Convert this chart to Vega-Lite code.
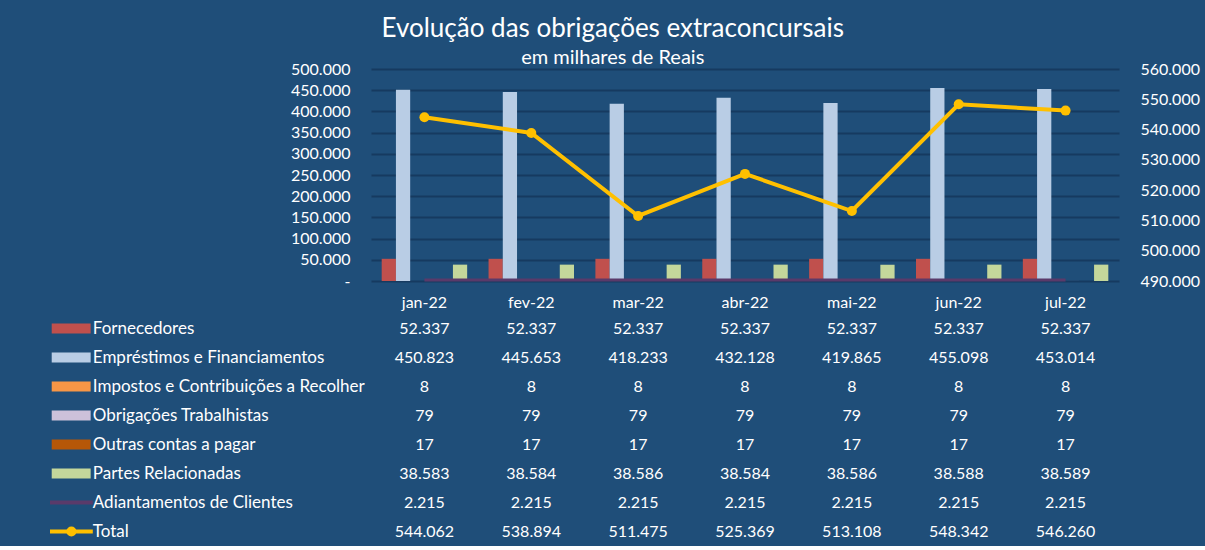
{
  "$schema": "https://vega.github.io/schema/vega-lite/v6.json",
  "background": "#1F4E79",
  "padding": {"left": 48, "top": 16, "right": 5, "bottom": 0},
  "title": {
    "text": "Evolução das obrigações extraconcursais",
    "subtitle": "em milhares de Reais",
    "anchor": "middle",
    "color": "white",
    "font": "Lato",
    "fontSize": 26,
    "fontWeight": "normal",
    "subtitleColor": "white",
    "subtitleFont": "Lato",
    "subtitleFontSize": 20,
    "subtitlePadding": 6,
    "offset": -7,
    "dx": -11
  },
  "datasets": {
    "d": [
      {"m": "jan-22", "s": "Fornecedores", "v": 52337},
      {"m": "fev-22", "s": "Fornecedores", "v": 52337},
      {"m": "mar-22", "s": "Fornecedores", "v": 52337},
      {"m": "abr-22", "s": "Fornecedores", "v": 52337},
      {"m": "mai-22", "s": "Fornecedores", "v": 52337},
      {"m": "jun-22", "s": "Fornecedores", "v": 52337},
      {"m": "jul-22", "s": "Fornecedores", "v": 52337},
      {"m": "jan-22", "s": "Empréstimos e Financiamentos", "v": 450823},
      {"m": "fev-22", "s": "Empréstimos e Financiamentos", "v": 445653},
      {"m": "mar-22", "s": "Empréstimos e Financiamentos", "v": 418233},
      {"m": "abr-22", "s": "Empréstimos e Financiamentos", "v": 432128},
      {"m": "mai-22", "s": "Empréstimos e Financiamentos", "v": 419865},
      {"m": "jun-22", "s": "Empréstimos e Financiamentos", "v": 455098},
      {"m": "jul-22", "s": "Empréstimos e Financiamentos", "v": 453014},
      {"m": "jan-22", "s": "Impostos e Contribuições a Recolher", "v": 8},
      {"m": "fev-22", "s": "Impostos e Contribuições a Recolher", "v": 8},
      {"m": "mar-22", "s": "Impostos e Contribuições a Recolher", "v": 8},
      {"m": "abr-22", "s": "Impostos e Contribuições a Recolher", "v": 8},
      {"m": "mai-22", "s": "Impostos e Contribuições a Recolher", "v": 8},
      {"m": "jun-22", "s": "Impostos e Contribuições a Recolher", "v": 8},
      {"m": "jul-22", "s": "Impostos e Contribuições a Recolher", "v": 8},
      {"m": "jan-22", "s": "Obrigações Trabalhistas", "v": 79},
      {"m": "fev-22", "s": "Obrigações Trabalhistas", "v": 79},
      {"m": "mar-22", "s": "Obrigações Trabalhistas", "v": 79},
      {"m": "abr-22", "s": "Obrigações Trabalhistas", "v": 79},
      {"m": "mai-22", "s": "Obrigações Trabalhistas", "v": 79},
      {"m": "jun-22", "s": "Obrigações Trabalhistas", "v": 79},
      {"m": "jul-22", "s": "Obrigações Trabalhistas", "v": 79},
      {"m": "jan-22", "s": "Outras contas a pagar", "v": 17},
      {"m": "fev-22", "s": "Outras contas a pagar", "v": 17},
      {"m": "mar-22", "s": "Outras contas a pagar", "v": 17},
      {"m": "abr-22", "s": "Outras contas a pagar", "v": 17},
      {"m": "mai-22", "s": "Outras contas a pagar", "v": 17},
      {"m": "jun-22", "s": "Outras contas a pagar", "v": 17},
      {"m": "jul-22", "s": "Outras contas a pagar", "v": 17},
      {"m": "jan-22", "s": "Partes Relacionadas", "v": 38583},
      {"m": "fev-22", "s": "Partes Relacionadas", "v": 38584},
      {"m": "mar-22", "s": "Partes Relacionadas", "v": 38586},
      {"m": "abr-22", "s": "Partes Relacionadas", "v": 38584},
      {"m": "mai-22", "s": "Partes Relacionadas", "v": 38586},
      {"m": "jun-22", "s": "Partes Relacionadas", "v": 38588},
      {"m": "jul-22", "s": "Partes Relacionadas", "v": 38589},
      {"m": "jan-22", "s": "Adiantamentos de Clientes", "v": 2215},
      {"m": "fev-22", "s": "Adiantamentos de Clientes", "v": 2215},
      {"m": "mar-22", "s": "Adiantamentos de Clientes", "v": 2215},
      {"m": "abr-22", "s": "Adiantamentos de Clientes", "v": 2215},
      {"m": "mai-22", "s": "Adiantamentos de Clientes", "v": 2215},
      {"m": "jun-22", "s": "Adiantamentos de Clientes", "v": 2215},
      {"m": "jul-22", "s": "Adiantamentos de Clientes", "v": 2215},
      {"m": "jan-22", "s": "Total", "v": 544062},
      {"m": "fev-22", "s": "Total", "v": 538894},
      {"m": "mar-22", "s": "Total", "v": 511475},
      {"m": "abr-22", "s": "Total", "v": 525369},
      {"m": "mai-22", "s": "Total", "v": 513108},
      {"m": "jun-22", "s": "Total", "v": 548342},
      {"m": "jul-22", "s": "Total", "v": 546260}
    ]
  },
  "columns": 2,
  "bounds": "flush",
  "spacing": {"row": 33, "column": 0},
  "concat": [
    {
      "width": 321,
      "height": 212,
      "data": {"values": []},
      "mark": {"type": "point"},
      "encoding": {}
    },
    {
      "width": 748,
      "height": 212,
      "data": {"name": "d"},
      "layer": [
        {
          "transform": [{"filter": {"field": "s", "oneOf": ["Fornecedores", "Empréstimos e Financiamentos", "Impostos e Contribuições a Recolher", "Obrigações Trabalhistas", "Outras contas a pagar", "Partes Relacionadas"]}}],
          "mark": {"type": "bar"},
          "encoding": {
            "x": {"field": "m", "type": "nominal", "sort": null,
                  "scale": {"domain": ["jan-22", "fev-22", "mar-22", "abr-22", "mai-22", "jun-22", "jul-22"], "paddingInner": 0.2, "paddingOuter": 0.1},
                  "axis": {"title": null, "ticks": false, "domain": false, "labelAngle": 0, "labelPadding": 13, "labelColor": "white", "labelFont": "Lato", "labelFontSize": 16}},
            "xOffset": {"field": "s", "type": "nominal",
                  "scale": {"domain": ["Fornecedores", "Empréstimos e Financiamentos", "Impostos e Contribuições a Recolher", "Obrigações Trabalhistas", "Outras contas a pagar", "Partes Relacionadas"], "paddingInner": 0, "paddingOuter": 0}},
            "y": {"field": "v", "type": "quantitative",
                  "scale": {"domain": [0, 500000], "nice": false},
                  "axis": {"title": null, "values": [0, 50000, 100000, 150000, 200000, 250000, 300000, 350000, 400000, 450000, 500000], "format": ",.0f", "labelExpr": "datum.value == 0 ? '-' : datum.label", "labelOverlap": false, "ticks": false, "domain": false, "labelPadding": 21, "labelColor": "white", "labelFont": "Lato", "labelFontSize": 16, "grid": true, "gridColor": "#163A60", "gridWidth": 2}},
            "color": {"field": "s", "type": "nominal", "legend": null,
                  "scale": {"domain": ["Fornecedores", "Empréstimos e Financiamentos", "Impostos e Contribuições a Recolher", "Obrigações Trabalhistas", "Outras contas a pagar", "Partes Relacionadas", "Adiantamentos de Clientes", "Total"],
                            "range": ["#C0504D", "#B9CDE5", "#F79646", "#CCC1DA", "#B65708", "#C4D79B", "#553864", "#FFC000"]}}
          }
        },
        {
          "transform": [{"filter": "datum.s == 'Adiantamentos de Clientes'"}],
          "mark": {"type": "line", "strokeWidth": 3, "color": "#5A3A6A"},
          "encoding": {
            "x": {"field": "m", "type": "nominal", "sort": null},
            "y": {"field": "v", "type": "quantitative", "scale": {"domain": [0, 500000], "nice": false}, "axis": null}
          }
        },
        {
          "transform": [{"filter": "datum.s == 'Total'"}],
          "mark": {"type": "line", "strokeWidth": 4, "color": "#FFC000", "point": {"filled": true, "size": 100, "color": "#FFC000"}},
          "encoding": {
            "x": {"field": "m", "type": "nominal", "sort": null},
            "y": {"field": "v", "type": "quantitative",
                  "scale": {"domain": [490000, 560000], "nice": false, "zero": false},
                  "axis": {"orient": "right", "title": null, "values": [490000, 500000, 510000, 520000, 530000, 540000, 550000, 560000], "format": ",.0f", "labelOverlap": false, "ticks": false, "domain": false, "labelPadding": 21, "labelColor": "white", "labelFont": "Lato", "labelFontSize": 16, "grid": false}}
          }
        }
      ],
      "resolve": {"scale": {"y": "independent"}}
    },
    {
      "width": 321,
      "height": 232,
      "data": {"name": "d"},
      "transform": [{"filter": "datum.m == 'jan-22'"}],
      "encoding": {
        "y": {"field": "s", "type": "nominal", "sort": null,
              "scale": {"domain": ["Fornecedores", "Empréstimos e Financiamentos", "Impostos e Contribuições a Recolher", "Obrigações Trabalhistas", "Outras contas a pagar", "Partes Relacionadas", "Adiantamentos de Clientes", "Total"], "paddingInner": 0, "paddingOuter": 0},
              "axis": null}
      },
      "layer": [
        {
          "mark": {"type": "text", "color": "white", "font": "Lato", "fontSize": 17, "align": "left", "baseline": "middle"},
          "encoding": {
            "x": {"datum": "_1", "type": "nominal", "bandPosition": 0.40,
                  "scale": {"domain": ["_1", "_2", "_3"], "paddingInner": 0, "paddingOuter": 0}, "axis": null},
            "text": {"field": "s", "type": "nominal"}
          }
        },
        {
          "transform": [{"filter": {"field": "s", "oneOf": ["Fornecedores", "Empréstimos e Financiamentos", "Impostos e Contribuições a Recolher", "Obrigações Trabalhistas", "Outras contas a pagar", "Partes Relacionadas"]}}],
          "mark": {"type": "rect"},
          "encoding": {
            "x": {"datum": "_1", "type": "nominal", "bandPosition": 0.016,
                  "scale": {"domain": ["_1", "_2", "_3"], "paddingInner": 0, "paddingOuter": 0}, "axis": null},
            "x2": {"datum": "_1", "bandPosition": 0.38},
            "y": {"field": "s", "type": "nominal", "sort": null, "bandPosition": 0.33},
            "y2": {"field": "s", "bandPosition": 0.67},
            "color": {"field": "s", "type": "nominal", "legend": null,
                      "scale": {"domain": ["Fornecedores", "Empréstimos e Financiamentos", "Impostos e Contribuições a Recolher", "Obrigações Trabalhistas", "Outras contas a pagar", "Partes Relacionadas", "Adiantamentos de Clientes", "Total"],
                                "range": ["#C0504D", "#B9CDE5", "#F79646", "#CCC1DA", "#B65708", "#C4D79B", "#553864", "#FFC000"]}}
          }
        },
        {
          "transform": [{"filter": "datum.s == 'Adiantamentos de Clientes'"}],
          "mark": {"type": "rule", "strokeWidth": 4, "color": "#5A3A6A"},
          "encoding": {
            "x": {"datum": "_1", "type": "nominal", "bandPosition": 0.0,
                  "scale": {"domain": ["_1", "_2", "_3"], "paddingInner": 0, "paddingOuter": 0}, "axis": null},
            "x2": {"datum": "_1", "bandPosition": 0.4}
          }
        },
        {
          "transform": [{"filter": "datum.s == 'Total'"}],
          "mark": {"type": "rule", "strokeWidth": 4, "color": "#FFC000"},
          "encoding": {
            "x": {"datum": "_1", "type": "nominal", "bandPosition": 0.0,
                  "scale": {"domain": ["_1", "_2", "_3"], "paddingInner": 0, "paddingOuter": 0}, "axis": null},
            "x2": {"datum": "_1", "bandPosition": 0.4}
          }
        },
        {
          "transform": [{"filter": "datum.s == 'Total'"}],
          "mark": {"type": "point", "filled": true, "size": 100, "color": "#FFC000", "opacity": 1},
          "encoding": {
            "x": {"datum": "_1", "type": "nominal", "bandPosition": 0.2,
                  "scale": {"domain": ["_1", "_2", "_3"], "paddingInner": 0, "paddingOuter": 0}, "axis": null}
          }
        }
      ]
    },
    {
      "width": 748,
      "height": 232,
      "data": {"name": "d"},
      "mark": {"type": "text", "color": "white", "font": "Lato", "fontSize": 16, "align": "center", "baseline": "middle"},
      "encoding": {
        "x": {"field": "m", "type": "nominal", "sort": null,
              "scale": {"domain": ["jan-22", "fev-22", "mar-22", "abr-22", "mai-22", "jun-22", "jul-22"], "paddingInner": 0.2, "paddingOuter": 0.1},
              "axis": null},
        "y": {"field": "s", "type": "nominal", "sort": null,
              "scale": {"domain": ["Fornecedores", "Empréstimos e Financiamentos", "Impostos e Contribuições a Recolher", "Obrigações Trabalhistas", "Outras contas a pagar", "Partes Relacionadas", "Adiantamentos de Clientes", "Total"], "paddingInner": 0, "paddingOuter": 0},
              "axis": null},
        "text": {"field": "v", "type": "quantitative", "format": ",.0f"}
      }
    }
  ],
  "config": {
    "view": {"stroke": null},
    "axis": {"labelOverlap": false},
    "locale": {"number": {"decimal": ",", "thousands": ".", "grouping": [3], "currency": ["R$ ", ""]}},
    "text": {"font": "Lato"}
  }
}
